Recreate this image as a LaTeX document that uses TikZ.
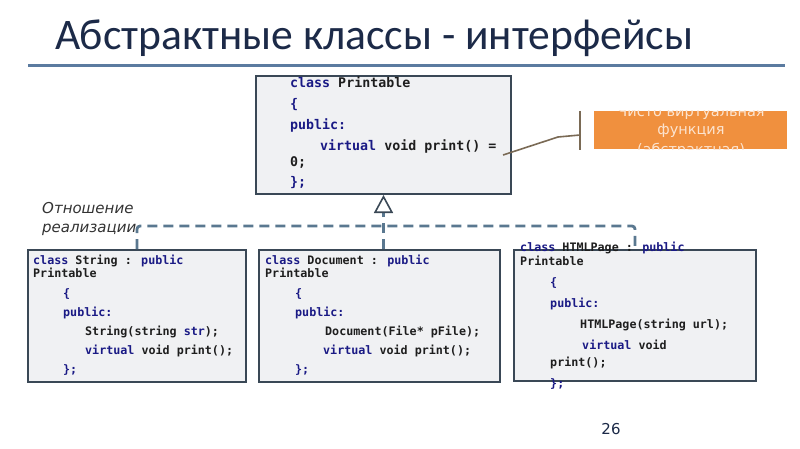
\documentclass[tikz,border=0pt]{standalone}
\usepackage{fontspec}
\usetikzlibrary{arrows.meta}
\setmainfont{Carlito}
\newfontfamily\codefont{DejaVu Sans Mono}[BoldFont={DejaVu Sans Mono Bold}]
\newfontfamily\labelfont{DejaVu Sans}
\definecolor{titlecol}{HTML}{1C2A48}
\definecolor{rulecol}{HTML}{5B7BA0}
\definecolor{boxfill}{HTML}{F0F1F3}
\definecolor{boxline}{HTML}{3A4856}
\definecolor{kwblue}{HTML}{1A1A85}
\definecolor{codeblack}{HTML}{1E1E1E}
\definecolor{connblue}{HTML}{5A7890}
\definecolor{calloutfill}{HTML}{F0903E}
\definecolor{callouttext}{HTML}{FCE4D0}
\definecolor{leadercol}{HTML}{7A6A55}
\newcommand\kw[1]{\textcolor{kwblue}{#1}}
\begin{document}
\begin{tikzpicture}[x=1pt,y=-1pt,
  classbox/.style={draw=boxline, fill=boxfill, line width=2pt, inner sep=0pt, anchor=north west},
  bigcode/.style={anchor=base west, inner sep=0pt, font=\codefont\bfseries\fontsize{13.3}{15}\selectfont, text=codeblack},
  smallcode/.style={anchor=base west, inner sep=0pt, font=\codefont\bfseries\fontsize{11.7}{13}\selectfont, text=codeblack},
  conn/.style={draw=connblue, line width=2.8pt, dash pattern=on 10pt off 6pt},
  leader/.style={draw=leadercol, line width=1.6pt},
  reltxt/.style={anchor=base west, inner sep=0pt, text=black!80, font=\labelfont\itshape\fontsize{15}{18}\selectfont},
  callouttxt/.style={anchor=center, inner sep=0pt, font=\labelfont\fontsize{14.5}{16}\selectfont, text=callouttext}]
\useasboundingbox (0,0) rectangle (800,449);
\fill[white] (0,0) rectangle (800,449);

% title and rule
\node[anchor=base west, inner sep=0pt, text=titlecol, font=\fontsize{43.6}{48}\selectfont] (title) at (55,50) {Абстрактные классы - интерфейсы};
\coordinate (ruleL) at (28,66);
\coordinate (ruleR) at (785,66);
\draw[rulecol, line width=3pt] (ruleL) -- (ruleR);

% Printable box
\node[classbox, minimum width=255pt, minimum height=118pt] (printable) at (255,75) {};
\node[bigcode] (p1) at (290,87.5) {\kw{class} Printable};
\node[bigcode] (p2) at (290,108.5) {\kw{\{}};
\node[bigcode] (p3) at (290,129.5) {\kw{public:}};
\node[bigcode] (p4) at (320,150.5) {\kw{virtual} void print() =};
\node[bigcode] (p5) at (290,166.5) {0;};
\node[bigcode] (p6) at (290,186.5) {\kw{\};}};

% String box
\node[classbox, minimum width=218pt, minimum height=132pt] (string) at (27,249) {};
\node[smallcode] (s1) at (33,264) {\kw{class} String : \kw{public}};
\node[smallcode] (s2) at (33,277.5) {Printable};
\node[smallcode] (s3) at (63,297) {\kw{\{}};
\node[smallcode] (s4) at (63,316) {\kw{public:}};
\node[smallcode] (s5) at (85,335.5) {String(string \kw{str});};
\node[smallcode] (s6) at (85,354) {\kw{virtual} void print();};
\node[smallcode] (s7) at (63,373) {\kw{\};}};

% Document box
\node[classbox, minimum width=241pt, minimum height=132pt] (document) at (258,249) {};
\node[smallcode] (d1) at (265,264) {\kw{class} Document : \kw{public}};
\node[smallcode] (d2) at (265,277.5) {Printable};
\node[smallcode] (d3) at (295,297) {\kw{\{}};
\node[smallcode] (d4) at (295,316) {\kw{public:}};
\node[smallcode] (d5) at (325,335.5) {Document(File* pFile);};
\node[smallcode] (d6) at (323,354) {\kw{virtual} void print();};
\node[smallcode] (d7) at (295,373) {\kw{\};}};

% HTMLPage box
\node[classbox, minimum width=242pt, minimum height=131pt] (html) at (513,249) {};
\node[smallcode] (h1) at (520,251) {\kw{class} HTMLPage : \kw{public}};
\node[smallcode] (h2) at (520,265.5) {Printable};
\node[smallcode] (h3) at (550,286.5) {\kw{\{}};
\node[smallcode] (h4) at (550,307.5) {\kw{public:}};
\node[smallcode] (h5) at (580,328) {HTMLPage(string url);};
\node[smallcode] (h6) at (582,349) {\kw{virtual} void};
\node[smallcode] (h7) at (550,366) {print();};
\node[smallcode] (h8) at (550,387) {\kw{\};}};

% realization connectors
\coordinate (bus) at (0,226);
\draw[conn, rounded corners=3pt] (string.north) |- (html.north |- bus) -- (html.north);
\draw[conn, -{Triangle[open, length=18pt, width=19pt, line width=1.6pt, color=boxline, fill=white]}]
  (document.north -| printable.south) -- (printable.south);

\node[reltxt] (rel1) at (42,214) {Отношение};
\node[reltxt] (rel2) at (42,232) {реализации};

% callout
\node[fill=calloutfill, inner sep=0pt, anchor=north west, minimum width=193pt, minimum height=38pt] (callout) at (594,111) {};
\begin{scope}
  \clip (callout.north west) rectangle (callout.south east);
  \node[callouttxt] (c1) at (691,113) {Чисто виртуальная};
  \node[callouttxt] (c2) at (691,131) {функция};
  \node[callouttxt] (c3) at (691,150) {(абстрактная)};
\end{scope}
\coordinate (brT) at (580,111);
\coordinate (brB) at (580,150);
\coordinate (brM) at (580,135);
\coordinate (knee) at (558,137);
\coordinate (tip) at (503,155);
\draw[leader] (brT) -- (brB);
\draw[leader] (brM) -- (knee) -- (tip);

% page number
\node[anchor=base, inner sep=0pt, text=titlecol, font=\labelfont\fontsize{15}{18}\selectfont] (pagenum) at (611,434) {26};
\end{tikzpicture}
\end{document}
